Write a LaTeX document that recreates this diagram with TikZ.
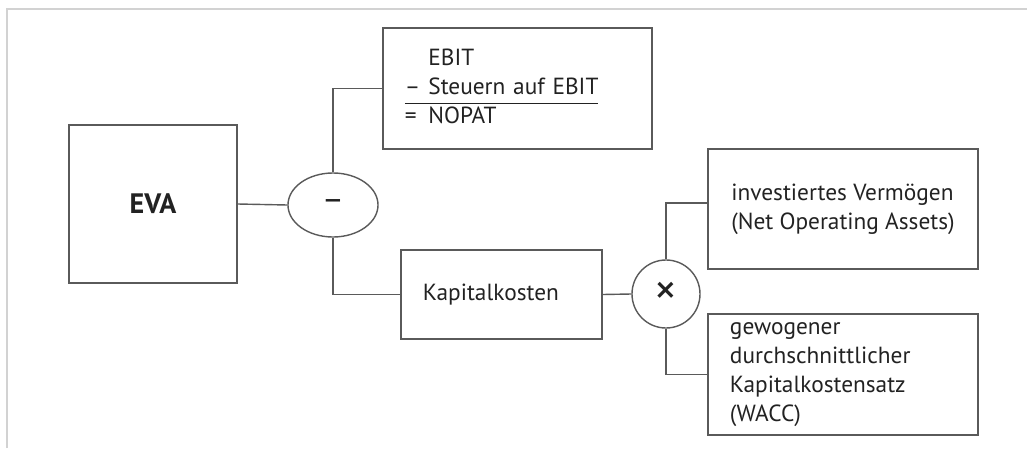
\documentclass[tikz,border=0pt]{standalone}
\usepackage{fontspec}
\setmainfont{PT Sans}
\usetikzlibrary{shapes.geometric}
\definecolor{linie}{HTML}{5A5A5A}
\definecolor{rahmen}{HTML}{D2D2D2}
\definecolor{schrift}{HTML}{222222}
\begin{document}
\begin{tikzpicture}[x=0.025cm, y=-0.025cm,
    kasten/.style={draw=linie, line width=1pt, text=schrift, inner xsep=0.55cm, align=left, font=\fontsize{16.6}{20.6}\selectfont},
    op/.style={draw=linie, line width=1pt, text=schrift, inner sep=0pt, font=\fontsize{24}{24}\selectfont},
    verbindung/.style={draw=linie, line width=1pt}]
    % Bildgroesse und Rahmen
    \useasboundingbox (0,0) rectangle (1027,448);
    \draw[rahmen, line width=2pt] (7,448) -- (7,9) -- (1027,9);

    % EVA und Differenz
\node at (153,204) [kasten, minimum width=4.2cm, minimum height=3.95cm, inner xsep=0pt, align=center, font=\fontsize{20}{24}\selectfont\bfseries] (eva) {EVA};
\node at (333,205) [op, ellipse, minimum width=2.25cm, minimum height=1.6cm] (minus) {\textendash};
\draw[verbindung] (eva.east) -- (minus.west);

\node at (517.5,88.5) [kasten, text width=5.625cm, minimum height=3.025cm] (nopat) {%
    \begin{tabular}{@{}l@{\hspace{0.2cm}}l@{}}
      & EBIT\\
    \textendash & Steuern auf EBIT\\ \hline
    = & NOPAT
    \end{tabular}};
\draw[verbindung] (minus.north) |- (nopat.west);

\node at (501.5,294.5) [kasten, text width=3.925cm, minimum height=2.225cm] (kosten) {Kapitalkosten};
\draw[verbindung] (minus.south) |- (kosten.west);

    % Kapitalkosten = Vermoegen x WACC
\node at (666,294) [op, circle, minimum size=1.7cm, font=\fontsize{32}{32}\selectfont] (mal) {×};
\draw[verbindung] (kosten.east) -- (mal.west);

\node at (843,209) [kasten, minimum width=6.75cm, minimum height=3cm, inner xsep=0pt] (vermoegen) {investiertes Vermögen\\(Net Operating Assets)};
\draw[verbindung] (mal.north) |- ([yshift=0.15cm]vermoegen.west);

\node at (843,374.5) [kasten, text width=5.65cm, minimum height=3.025cm] (wacc) {gewogener\\durchschnittlicher\\Kapitalkostensatz\\(WACC)};
\draw[verbindung] (mal.south) |- (wacc.west);

\end{tikzpicture}
\end{document}
